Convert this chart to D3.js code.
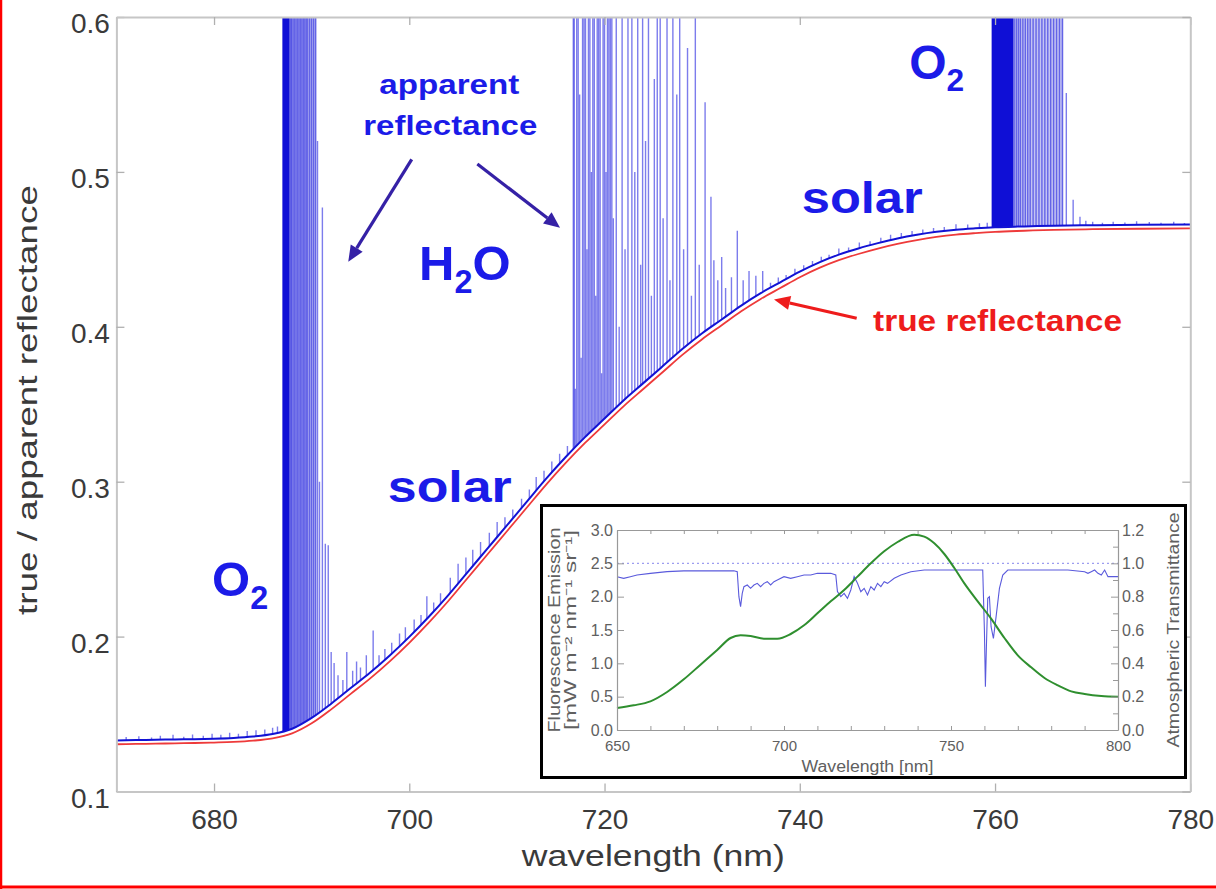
<!DOCTYPE html>
<html><head><meta charset="utf-8">
<script src="https://cdn.jsdelivr.net/npm/d3@7/dist/d3.min.js"></script>
<style>body{margin:0;background:#fff} svg{display:block}</style>
</head><body>
<svg id="c" width="1216" height="889"></svg>
<script>
// ---------------- DATA ----------------
const wavelengths = [670,672,674,676,678,680,682,684,686,688,690,692,694,696,698,700,702,704,706,708,710,712,714,716,718,720,722,724,726,728,730,732,734,736,738,740,742,744,746,748,750,752,754,756,758,760,763,766,770,775,780];
const trueReflectance = [.1305,.1307,.1309,.1311,.1313,.1316,.1320,.1328,.1343,.1375,.1440,.1530,.1630,.1730,.1840,.1960,.2090,.2230,.2380,.2530,.2680,.2830,.2980,.3120,.3250,.3370,.3490,.3600,.3710,.3820,.3920,.4010,.4100,.4180,.4250,.4320,.4380,.4430,.4470,.4505,.4535,.4560,.4580,.4595,.4605,.4613,.4620,.4626,.4630,.4633,.4635];
const apparentBaseline = [.1330,.1332,.1334,.1336,.1338,.1341,.1346,.1355,.1371,.1405,.1475,.1567,.1668,.1768,.1878,.1998,.2128,.2268,.2418,.2568,.2718,.2868,.3018,.3158,.3288,.3408,.3528,.3638,.3748,.3858,.3958,.4047,.4137,.4217,.4287,.4356,.4416,.4466,.4506,.4540,.4570,.4594,.4613,.4627,.4636,.4643,.4648,.4653,.4656,.4659,.4660];
// saturated absorption blocks [start nm, end nm]
const saturatedBands = [[687.0,687.75],[759.65,761.9]];
// lightly shaded absorption regions [start nm, end nm]
const shadedBands = [[687.75,690.5],[762.0,767.0]];
// apparent-reflectance spikes [nm, peak]
const apparentSpikes = [
 [671.0,.1352],[672.3,.1356],[673.6,.1348],[674.5,.1360],[675.8,.1366],[676.9,.1354],[677.8,.1368],[678.9,.1360],[679.8,.1373],[680.7,.1367],[681.6,.1380],[682.5,.1373],[683.4,.1390],[684.3,.1396],[685.2,.1400],[686.0,.1412],[686.5,.1420],
 [687.85,.62],[687.95,.62],[688.1,.62],[688.25,.62],[688.4,.62],[688.55,.62],[688.7,.62],[688.85,.62],[689.0,.62],[689.15,.62],[689.3,.62],[689.45,.62],[689.6,.62],[689.8,.62],[690.0,.62],[690.2,.62],[690.4,.62],
 [690.6,.52],[690.8,.30],[691.1,.477],[691.4,.26],[691.7,.259],[692.0,.19],[692.3,.183],[692.7,.175],[693.2,.172],[693.6,.19],[694.2,.178],[694.6,.184],[695.0,.180],[695.6,.188],[696.3,.204],[696.9,.188],[697.5,.192],[698.2,.196],[699.0,.202],[699.6,.206],[700.5,.211],[701.2,.214],[701.8,.226],[702.5,.222],[703.2,.228],[704.2,.238],[705.0,.247],[705.8,.251],[706.5,.256],[707.3,.261],[708.2,.267],[709.0,.274],[709.8,.277],[710.6,.282],[711.5,.289],[712.3,.295],[713.0,.303],[713.8,.307],[714.6,.313],[715.4,.318],[716.2,.323],
 [716.8,.62],[716.9,.62],[717.0,.36],[717.15,.62],[717.3,.62],[717.45,.55],[717.6,.38],[717.75,.62],[717.9,.62],[718.05,.62],[718.2,.45],[718.35,.62],[718.5,.62],[718.65,.50],[718.8,.62],[718.95,.62],[719.1,.42],[719.25,.62],[719.4,.62],[719.55,.62],[719.7,.37],[719.85,.62],[720.0,.62],[720.15,.50],[720.3,.62],[720.45,.62],[720.6,.62],[720.75,.62],[720.9,.47],[721.2,.62],[721.5,.40],[721.8,.62],[722.1,.45],[722.4,.62],[722.8,.62],[723.1,.50],[723.4,.62],[723.7,.44],[723.9,.62],[724.2,.52],[724.5,.62],[724.8,.42],[725.1,.56],[725.4,.62],[725.7,.62],[726.0,.47],[726.4,.62],[726.7,.43],[727.0,.62],[727.4,.55],[727.7,.62],[728.1,.45],[728.5,.58],[728.9,.42],[729.3,.62],[729.7,.44],[730.3,.545],[730.9,.484],
 [731.2,.443],[731.6,.43],[732.0,.445],[732.4,.425],[733.0,.432],[733.6,.462],[734.2,.430],[734.8,.436],[735.5,.433],[736.2,.436],
 [737.0,.4285],[737.8,.4318],[738.6,.4335],[739.5,.4375],[740.4,.4398],[741.3,.4425],[742.2,.4452],[743.0,.4465],[744.0,.4505],[745.0,.4512],[746.1,.4545],[747.2,.4552],[748.3,.4575],[749.3,.4595],[750.4,.4605],[751.5,.4618],[752.6,.4628],[753.7,.4638],[754.8,.4645],[756.0,.4662],[757.2,.4660],[758.4,.4668],[759.2,.4672],
 [762.0,.62],[762.2,.62],[762.4,.62],[762.6,.62],[762.85,.62],[763.1,.62],[763.35,.62],[763.6,.62],[763.9,.62],[764.2,.62],[764.5,.62],[764.8,.62],[765.1,.62],[765.4,.62],[765.7,.62],[766.0,.62],[766.3,.62],[766.6,.62],[766.9,.62],
 [767.3,.551],[768.0,.482],[768.7,.471],[769.3,.4685],[770.0,.4678],[771.0,.4672],[772.1,.4678],[773.3,.4673],[774.5,.4681],[775.8,.4677],[777.0,.4672],[778.3,.4678],[779.4,.4670]
];
const xTicks = [680,700,720,740,760,780];
const yTicks = [0.1,0.2,0.3,0.4,0.5,0.6];

// inset: fluorescence emission (left axis) and atmospheric transmittance (right axis)
const insetWavelengths = [650,655,660,665,670,675,680,684,687,690,694,698,702,706,710,714,718,722,726,730,734,739,742,745,748,751,754,758,762,766,770,774,778,782,786,790,795,800];
const fluorescence = [0.33,0.37,0.43,0.57,0.76,0.98,1.20,1.38,1.42,1.41,1.37,1.37,1.44,1.57,1.75,1.93,2.10,2.30,2.50,2.68,2.82,2.93,2.90,2.80,2.64,2.43,2.20,1.93,1.67,1.38,1.12,0.94,0.78,0.67,0.58,0.54,0.51,0.50];
const transWavelengths = [650,652,654,656,660,665,670,675,680,685,686,686.5,687,687.5,688,689,690,691,692,693,694,695,696,697,698,700,702,704,706,708,710,712,714,715.5,716,717,718,719,720,721,722,723,724,725,726,727,728,729,730,731,733,735,738,742,748,755,759.5,760,760.3,760.6,761,761.5,762,762.7,763.5,764.5,765.5,767,775,785,790,791,792,793,794,795,796,797,800];
const transmittance = [0.92,0.91,0.92,0.93,0.94,0.95,0.955,0.955,0.955,0.955,0.95,0.80,0.74,0.82,0.86,0.87,0.85,0.87,0.88,0.86,0.88,0.89,0.87,0.89,0.90,0.92,0.91,0.92,0.93,0.93,0.94,0.94,0.94,0.93,0.83,0.80,0.82,0.79,0.84,0.92,0.88,0.83,0.85,0.81,0.86,0.84,0.88,0.86,0.89,0.88,0.91,0.93,0.95,0.96,0.96,0.96,0.96,0.60,0.26,0.50,0.79,0.80,0.62,0.55,0.68,0.85,0.93,0.96,0.96,0.96,0.95,0.94,0.95,0.96,0.94,0.93,0.96,0.92,0.92];
const transmittanceReference = 1.0;
const insetXTicks = [650,700,750,800];
const insetLeftTicks = [0.0,0.5,1.0,1.5,2.0,2.5,3.0];
const insetRightTicks = [0.0,0.2,0.4,0.6,0.8,1.0,1.2];

// ---------------- DRAWING ----------------
const svg = d3.select("#c");
const FONT = "'Liberation Sans', Arial, sans-serif";
const BLUE_TXT = "#1b1be8";

const x = d3.scaleLinear().domain([670,780]).range([116.4,1190.3]);
const y = d3.scaleLinear().domain([0.1,0.6]).range([791.5,17]);

const defs = svg.append("defs");
defs.append("clipPath").attr("id","plotClip").append("rect")
  .attr("x",x(670)).attr("y",y(0.6)).attr("width",x(780)-x(670)).attr("height",y(0.1)-y(0.6));
const pts = wavelengths.map((w,i)=>({w, t:trueReflectance[i], a:apparentBaseline[i]}));
defs.append("clipPath").attr("id","aboveBase").append("path")
  .attr("d", d3.area().x(d=>x(d.w)).y0(y(0.6)).y1(d=>y(d.a)).curve(d3.curveMonotoneX)(pts));

const plot = svg.append("g").attr("clip-path","url(#plotClip)");

// true reflectance
plot.append("path").attr("d", d3.line().x(d=>x(d.w)).y(d=>y(d.t)).curve(d3.curveMonotoneX)(pts))
  .attr("fill","none").attr("stroke","#ee3a3a").attr("stroke-width",1.8);

const spk = plot.append("g").attr("clip-path","url(#aboveBase)");
spk.selectAll("rect.shade").data(shadedBands).join("rect").attr("class","shade")
  .attr("x",d=>x(d[0])).attr("width",d=>x(d[1])-x(d[0]))
  .attr("y",y(0.6)).attr("height",y(0.1)-y(0.6)).attr("fill","#c4c4f3");
spk.selectAll("line").data(apparentSpikes).join("line")
  .attr("x1",d=>x(d[0])).attr("x2",d=>x(d[0]))
  .attr("y1",d=>y(d[1])).attr("y2",y(0.1))
  .attr("stroke","#2424e0").attr("stroke-width",1.4).attr("stroke-opacity",0.6);
spk.selectAll("rect.sat").data(saturatedBands).join("rect").attr("class","sat")
  .attr("x",d=>x(d[0])).attr("width",d=>x(d[1])-x(d[0]))
  .attr("y",y(0.6)).attr("height",y(0.1)-y(0.6)).attr("fill","#0f0fd6");

// apparent reflectance baseline
plot.append("path").attr("d", d3.line().x(d=>x(d.w)).y(d=>y(d.a)).curve(d3.curveMonotoneX)(pts))
  .attr("fill","none").attr("stroke","#1212d4").attr("stroke-width",2);

// axes (frame)
function styleAxis(g){
  g.select(".domain").attr("stroke","#c6c6c6").attr("stroke-width",2);
  g.selectAll(".tick line").attr("stroke","#b0b0b0").attr("stroke-width",1.3);
}
const fmt = d3.format(".1f");
const gL = svg.append("g").attr("transform",`translate(${x(670)},0)`)
  .call(d3.axisLeft(y).tickValues(yTicks).tickSizeInner(-8).tickSizeOuter(0).tickFormat(fmt));
styleAxis(gL);
gL.selectAll(".tick text").attr("x",-6.5).attr("dy","0.56em")
  .attr("font-family",FONT).attr("font-size",28).attr("fill","#3a3a3a");
const gB = svg.append("g").attr("transform",`translate(0,${y(0.1)})`)
  .call(d3.axisBottom(x).tickValues(xTicks).tickSizeInner(-8).tickSizeOuter(0));
styleAxis(gB);
gB.selectAll(".tick text").attr("y",17.5)
  .attr("font-family",FONT).attr("font-size",28).attr("fill","#3a3a3a");
const gT = svg.append("g").attr("transform",`translate(0,${y(0.6)})`)
  .call(d3.axisTop(x).tickValues(xTicks).tickSizeInner(-8).tickSizeOuter(0).tickFormat(""));
styleAxis(gT);
const gR = svg.append("g").attr("transform",`translate(${x(780)},0)`)
  .call(d3.axisRight(y).tickValues(yTicks).tickSizeInner(-8).tickSizeOuter(0).tickFormat(""));
styleAxis(gR);

// axis titles
svg.append("text").attr("transform","translate(37,400) rotate(-90)")
  .attr("text-anchor","middle").attr("font-family",FONT).attr("font-size",27).attr("fill","#3a3a3a")
  .attr("textLength",430).attr("lengthAdjust","spacingAndGlyphs").text("true / apparent reflectance");
svg.append("text").attr("x",(x(670)+x(780))/2).attr("y",866)
  .attr("text-anchor","middle").attr("font-family",FONT).attr("font-size",30).attr("fill","#3a3a3a")
  .attr("textLength",263).attr("lengthAdjust","spacingAndGlyphs").text("wavelength (nm)");

// annotations (positions in data units)
function label(t, nm, v, size, color, len, anchor){
  const el = svg.append("text").attr("x",x(nm)).attr("y",y(v)).attr("font-family",FONT)
    .attr("font-weight","bold").attr("font-size",size).attr("fill",color)
    .attr("text-anchor",anchor||"start").text(t);
  if(len) el.attr("textLength",len).attr("lengthAdjust","spacingAndGlyphs");
  return el;
}
function molecule(parts, nm, v, size, color){
  const el = svg.append("text").attr("x",x(nm)).attr("y",y(v)).attr("font-family",FONT)
    .attr("font-weight","bold").attr("font-size",size).attr("fill",color);
  parts.forEach(p=>{
    el.append("tspan").text(p[0]).attr("font-size",p[1]?size*0.66:size)
      .attr("dy",p[1]?size*0.26:(p[2]?-size*0.26:0));
  });
}
label("apparent", 704.1, 0.5505, 28, BLUE_TXT, 140, "middle");
label("reflectance", 704.2, 0.5240, 28, BLUE_TXT, 174, "middle");
molecule([["H"],["2",true],["O",false,true]], 701.0, 0.4300, 49, BLUE_TXT);
molecule([["O"],["2",true]], 679.8, 0.2262, 49, BLUE_TXT);
molecule([["O"],["2",true]], 751.2, 0.5600, 48, BLUE_TXT);
label("solar", 697.8, 0.2870, 44, BLUE_TXT, 124);
label("solar", 740.2, 0.4735, 44, BLUE_TXT, 121);
label("true reflectance", 747.5, 0.3970, 30, "#ee1c1c", 249);

// arrows
function arrow(a, b, color, w){
  const x1=x(a[0]), y1=y(a[1]), x2=x(b[0]), y2=y(b[1]);
  const ang=Math.atan2(y2-y1,x2-x1), L=16, hw=7;
  const bx=x2-L*Math.cos(ang), by=y2-L*Math.sin(ang);
  svg.append("line").attr("x1",x1).attr("y1",y1).attr("x2",bx).attr("y2",by)
    .attr("stroke",color).attr("stroke-width",w);
  svg.append("path").attr("d",`M${x2},${y2}L${bx+hw*Math.sin(ang)},${by-hw*Math.cos(ang)}L${bx-hw*Math.sin(ang)},${by+hw*Math.cos(ang)}Z`)
    .attr("fill",color);
}
arrow([700.25,0.5081],[693.75,0.4420],"#3521a6",3.2);
arrow([706.97,0.5051],[715.44,0.4640],"#3521a6",3.2);
arrow([745.83,0.4055],[737.36,0.4177],"#ee1c1c",3.2);

// ---------------- INSET ----------------
const ins = svg.append("g");
ins.append("rect").attr("x",541.5).attr("y",505.5).attr("width",644).attr("height",272)
  .attr("fill","#fff").attr("stroke","#000").attr("stroke-width",3);
const ix = d3.scaleLinear().domain([650,800]).range([617,1118]);
const iyL = d3.scaleLinear().domain([0,3]).range([730,530]);
const iyR = d3.scaleLinear().domain([0,1.2]).range([730,530]);
const IG = "#606060", IF = 16;

ins.append("line").attr("x1",ix(650)).attr("x2",ix(800)).attr("y1",iyR(transmittanceReference)).attr("y2",iyR(transmittanceReference))
  .attr("stroke","#9d9df0").attr("stroke-width",1.4).attr("stroke-dasharray","2,3");
ins.append("path").datum(transWavelengths.map((w,i)=>[w,transmittance[i]]))
  .attr("d", d3.line().x(d=>ix(d[0])).y(d=>iyR(d[1])))
  .attr("fill","none").attr("stroke","#5a5adc").attr("stroke-width",1.1);
ins.append("path").datum(insetWavelengths.map((w,i)=>[w,fluorescence[i]]))
  .attr("d", d3.line().x(d=>ix(d[0])).y(d=>iyL(d[1])).curve(d3.curveMonotoneX))
  .attr("fill","none").attr("stroke","#2f8f2f").attr("stroke-width",2);

function styleInset(g){
  g.select(".domain").attr("stroke","#999").attr("stroke-width",1.2);
  g.selectAll(".tick line").attr("stroke","#999");
  g.selectAll(".tick text").attr("font-family",FONT).attr("font-size",IF).attr("fill",IG);
}
const minorX = d3.range(650,801,10);
const ib = ins.append("g").attr("transform",`translate(0,${iyL(0)})`)
  .call(d3.axisBottom(ix).tickValues(minorX).tickSizeInner(-4).tickSizeOuter(0).tickFormat(d=>insetXTicks.includes(d)?d:""));
styleInset(ib); ib.selectAll(".tick text").attr("y",10).attr("font-size",15);
const it = ins.append("g").attr("transform",`translate(0,${iyL(3)})`)
  .call(d3.axisTop(ix).tickValues(minorX).tickSizeInner(-4).tickSizeOuter(0).tickFormat(""));
styleInset(it);
const il = ins.append("g").attr("transform",`translate(${ix(650)},0)`)
  .call(d3.axisLeft(iyL).tickValues(insetLeftTicks).tickSizeInner(-7).tickSizeOuter(0).tickFormat(fmt));
styleInset(il); il.selectAll(".tick text").attr("x",-4);
const ir = ins.append("g").attr("transform",`translate(${ix(800)},0)`)
  .call(d3.axisRight(iyR).tickValues(d3.range(0,1.21,0.1)).tickSizeInner(-5).tickSizeOuter(0)
  .tickFormat(d=>insetRightTicks.some(t=>Math.abs(t-d)<1e-6)?fmt(d):""));
styleInset(ir); ir.selectAll(".tick text").attr("x",4);
ir.selectAll(".tick line").filter(d=>insetRightTicks.some(t=>Math.abs(t-d)<1e-6)).attr("x2",-7);

ins.append("text").attr("x",ix(725)).attr("y",772).attr("text-anchor","middle")
  .attr("font-family",FONT).attr("font-size",IF).attr("fill",IG)
  .attr("textLength",132).attr("lengthAdjust","spacingAndGlyphs").text("Wavelength [nm]");
const yl = ins.append("text").attr("transform",`translate(560,630) rotate(-90)`).attr("text-anchor","middle")
  .attr("font-family",FONT).attr("font-size",IF).attr("fill",IG);
yl.append("tspan").attr("x",0).attr("y",0).attr("textLength",205).attr("lengthAdjust","spacingAndGlyphs").text("Fluorescence Emission");
yl.append("tspan").attr("x",0).attr("y",16).attr("textLength",200).attr("lengthAdjust","spacingAndGlyphs").text("[mW m⁻² nm⁻¹ sr⁻¹]");
ins.append("text").attr("transform",`translate(1179,630) rotate(-90)`).attr("text-anchor","middle")
  .attr("font-family",FONT).attr("font-size",IF).attr("fill",IG)
  .attr("textLength",235).attr("lengthAdjust","spacingAndGlyphs").text("Atmospheric Transmittance");

// red page border (left and bottom)
svg.append("line").attr("x1",1).attr("x2",1).attr("y1",0).attr("y2",889).attr("stroke","#ff0000").attr("stroke-width",2.5);
svg.append("line").attr("x1",0).attr("x2",1216).attr("y1",887).attr("y2",887).attr("stroke","#ff0000").attr("stroke-width",3);
</script>
</body></html>
